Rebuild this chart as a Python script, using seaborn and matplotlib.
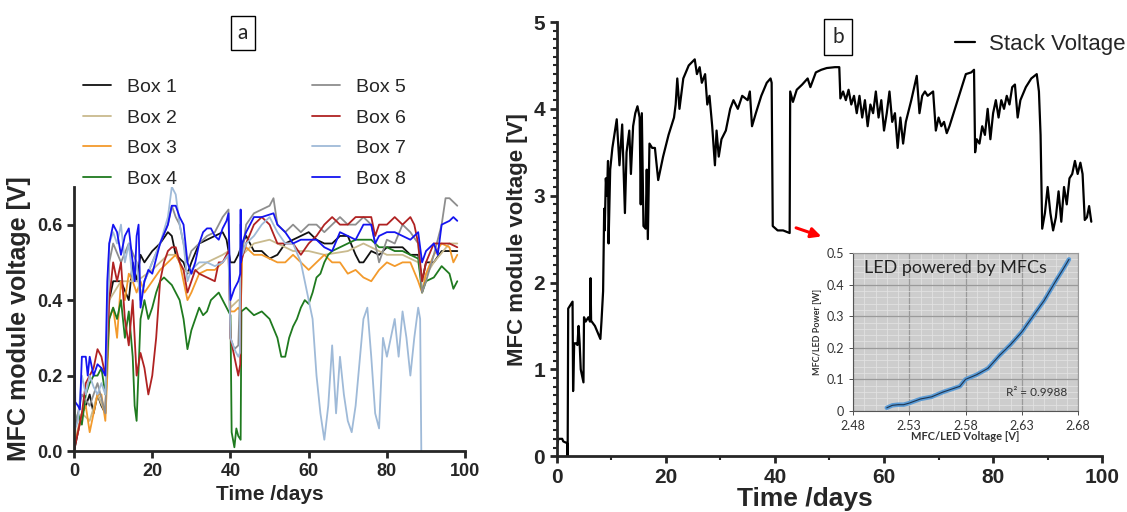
import numpy as np
import pandas as pd
import seaborn as sns
import matplotlib.pyplot as plt
from matplotlib.lines import Line2D
from matplotlib.ticker import MultipleLocator, FuncFormatter

# ---- panel a: single module voltages (V) vs time (days) ----
box1_t = [0, 1, 2, 3, 4, 5, 6, 7, 8, 9, 10, 12, 14, 15, 16, 17, 18, 20, 22, 24, 25, 26, 28, 29, 30, 32, 34, 36, 38, 39, 40, 41, 42, 43, 44, 46, 48, 50, 52, 54, 56, 58, 60, 62, 64, 66, 68, 70, 72, 73, 74, 76, 78, 80, 82, 84, 86, 88, 89, 90, 92, 94, 96, 98]
box1_v = [0.0, 0.05, 0.1, 0.12, 0.15, 0.1, 0.15, 0.12, 0.1, 0.4, 0.45, 0.45, 0.4, 0.5, 0.45, 0.52, 0.5, 0.53, 0.55, 0.58, 0.57, 0.52, 0.5, 0.47, 0.5, 0.55, 0.56, 0.57, 0.58, 0.56, 0.5, 0.5, 0.52, 0.55, 0.57, 0.53, 0.53, 0.51, 0.52, 0.55, 0.56, 0.57, 0.58, 0.56, 0.55, 0.55, 0.57, 0.57, 0.52, 0.5, 0.5, 0.53, 0.52, 0.54, 0.54, 0.54, 0.52, 0.52, 0.45, 0.5, 0.5, 0.53, 0.53, 0.53]

box2_t = [0, 2, 4, 6, 8, 9, 12, 16, 20, 24, 26, 28, 30, 34, 38, 39.5, 40, 42, 42.7, 43, 46, 50, 52, 56, 60, 64, 70, 74, 78, 80, 84, 88, 89, 92, 96, 98]
box2_v = [0.02, 0.1, 0.08, 0.15, 0.1, 0.4, 0.45, 0.45, 0.48, 0.52, 0.52, 0.48, 0.47, 0.5, 0.52, 0.53, 0.38, 0.4, 0.4, 0.52, 0.55, 0.56, 0.55, 0.53, 0.53, 0.52, 0.53, 0.55, 0.53, 0.52, 0.52, 0.5, 0.45, 0.5, 0.55, 0.55]

box3_t = [0, 1, 2, 3, 4, 5, 6, 7, 8, 8.5, 9, 10, 11, 12, 13, 14, 15, 16, 17, 18, 20, 22, 24, 26, 27, 28, 29, 30, 32, 34, 36, 38, 39.5, 40, 41, 42, 42.6, 43, 44, 46, 48, 50, 52, 54, 56, 58, 60, 62, 64, 66, 68, 70, 72, 74, 76, 78, 80, 82, 84, 86, 88, 89, 90, 92, 94, 96, 97, 98]
box3_v = [0.02, 0.05, 0.1, 0.12, 0.05, 0.1, 0.15, 0.15, 0.08, 0.2, 0.35, 0.38, 0.3, 0.45, 0.4, 0.47, 0.45, 0.42, 0.45, 0.42, 0.45, 0.48, 0.5, 0.52, 0.5, 0.45, 0.4, 0.42, 0.47, 0.48, 0.48, 0.5, 0.52, 0.37, 0.37, 0.38, 0.37, 0.52, 0.54, 0.52, 0.52, 0.51, 0.5, 0.5, 0.52, 0.5, 0.48, 0.5, 0.52, 0.5, 0.5, 0.47, 0.48, 0.46, 0.45, 0.48, 0.5, 0.49, 0.5, 0.5, 0.45, 0.42, 0.47, 0.52, 0.55, 0.54, 0.5, 0.52]

box4_t = [0, 1, 2, 3, 4, 5, 6, 7, 8, 9, 10, 11, 12, 13, 14, 15, 15.5, 16, 17, 18, 19, 20, 21, 22, 23, 24, 25, 26, 27, 28, 29, 30, 31, 32, 33, 34, 35, 36, 37, 38, 39, 40, 40.3, 41, 41.5, 42, 42.6, 42.8, 44, 46, 48, 50, 52, 53, 54, 55, 56, 57, 58, 59, 60, 61, 62, 63, 64, 65, 66, 68, 70, 72, 74, 76, 78, 80, 82, 84, 86, 88, 89, 90, 92, 94, 96, 97, 98]
box4_v = [0.05, 0.1, 0.07, 0.15, 0.18, 0.2, 0.2, 0.22, 0.15, 0.35, 0.38, 0.35, 0.4, 0.3, 0.37, 0.25, 0.12, 0.08, 0.35, 0.4, 0.35, 0.38, 0.42, 0.45, 0.46, 0.45, 0.44, 0.42, 0.4, 0.35, 0.27, 0.32, 0.35, 0.38, 0.36, 0.37, 0.4, 0.41, 0.42, 0.4, 0.38, 0.36, 0.05, 0.01, 0.06, 0.04, 0.03, 0.37, 0.38, 0.36, 0.37, 0.35, 0.3, 0.25, 0.25, 0.3, 0.33, 0.35, 0.38, 0.4, 0.39, 0.42, 0.46, 0.47, 0.5, 0.52, 0.53, 0.54, 0.55, 0.56, 0.56, 0.56, 0.54, 0.54, 0.53, 0.53, 0.52, 0.51, 0.42, 0.45, 0.46, 0.49, 0.47, 0.43, 0.45]

box5_t = [0, 2, 4, 6, 8, 9, 10, 12, 14, 16, 17, 18, 20, 22, 24, 25, 26, 27, 28, 29, 30, 32, 34, 36, 38, 39.5, 40, 41, 42, 42.7, 44, 46, 48, 50, 51, 52, 54, 56, 58, 60, 62, 64, 66, 68, 70, 72, 74, 76, 77, 78, 80, 82, 84, 86, 88, 89, 90, 92, 94, 95, 96, 97, 98]
box5_v = [0.05, 0.15, 0.12, 0.18, 0.1, 0.5, 0.55, 0.5, 0.55, 0.5, 0.4, 0.45, 0.5, 0.55, 0.6, 0.65, 0.62, 0.6, 0.55, 0.5, 0.53, 0.55, 0.57, 0.58, 0.62, 0.64, 0.3, 0.27, 0.28, 0.5, 0.6, 0.63, 0.64, 0.65, 0.67, 0.6, 0.58, 0.6, 0.58, 0.6, 0.6, 0.58, 0.6, 0.62, 0.6, 0.6, 0.62, 0.6, 0.55, 0.5, 0.56, 0.55, 0.6, 0.58, 0.55, 0.42, 0.45, 0.52, 0.6, 0.67, 0.67, 0.66, 0.65]

box6_t = [0, 1, 2, 3, 4, 5, 6, 7, 8, 9, 10, 11, 12, 13, 14, 15, 15.5, 16, 17, 18, 19, 20, 21, 22, 23, 24, 25, 26, 27, 28, 29, 30, 31, 32, 34, 36, 37, 38, 39, 39.5, 40, 41, 42, 42.5, 42.7, 44, 46, 48, 50, 52, 54, 56, 58, 60, 62, 64, 66, 68, 70, 72, 74, 76, 77, 78, 80, 82, 84, 86, 87, 88, 89, 90, 92, 94, 96, 98]
box6_v = [0.0, 0.05, 0.1, 0.18, 0.2, 0.22, 0.27, 0.25, 0.2, 0.4, 0.5, 0.45, 0.5, 0.35, 0.28, 0.4, 0.3, 0.2, 0.26, 0.22, 0.15, 0.2, 0.3, 0.45, 0.5, 0.53, 0.54, 0.54, 0.5, 0.48, 0.42, 0.45, 0.48, 0.47, 0.46, 0.45, 0.5, 0.5, 0.52, 0.53, 0.3, 0.25, 0.2, 0.23, 0.5, 0.55, 0.6, 0.62, 0.6, 0.55, 0.55, 0.55, 0.52, 0.55, 0.57, 0.6, 0.62, 0.6, 0.6, 0.62, 0.62, 0.62, 0.57, 0.6, 0.6, 0.62, 0.6, 0.62, 0.6, 0.55, 0.45, 0.5, 0.55, 0.55, 0.55, 0.54]

box7_t = [0, 1, 2, 3, 4, 5, 6, 7, 8, 9, 10, 11, 12, 13, 14, 15, 16, 17, 18, 20, 22, 24, 25, 26, 27, 28, 29, 30, 32, 34, 36, 38, 39.5, 40, 41, 42, 42.4, 42.5, 43, 44, 46, 48, 50, 52, 54, 56, 58, 59, 60, 61, 62, 63, 64, 65, 66, 67, 68, 69, 70, 71, 72, 74, 75, 76, 77, 78, 79, 80, 81, 82, 83, 84, 85, 86, 87, 88, 88.5, 88.8]
box7_v = [0.05, 0.08, 0.2, 0.15, 0.2, 0.17, 0.15, 0.18, 0.15, 0.55, 0.58, 0.55, 0.6, 0.5, 0.55, 0.45, 0.5, 0.4, 0.45, 0.5, 0.55, 0.62, 0.7, 0.68, 0.6, 0.55, 0.45, 0.48, 0.5, 0.5, 0.49, 0.5, 0.52, 0.3, 0.27, 0.25, 0.26, 0.6, 0.52, 0.55, 0.57, 0.6, 0.62, 0.58, 0.55, 0.55, 0.5, 0.45, 0.4, 0.35, 0.2, 0.1, 0.03, 0.12, 0.28, 0.1, 0.25, 0.15, 0.08, 0.05, 0.12, 0.35, 0.38, 0.25, 0.1, 0.06, 0.3, 0.25, 0.3, 0.35, 0.25, 0.37, 0.3, 0.2, 0.3, 0.38, 0.35, 0.0]

box8_t = [0, 0.3, 1, 1.5, 2, 3, 3.5, 4, 5, 6, 7, 8, 8.5, 9, 10, 11, 12, 13, 14, 15, 15.5, 16, 16.5, 17, 18, 19, 20, 22, 24, 25, 26, 27, 28, 29, 30, 31, 32, 33, 34, 35, 36, 37, 38, 39, 39.5, 40, 41, 42, 42.5, 42.6, 42.7, 43, 44, 45, 46, 48, 51, 52, 54, 56, 58, 60, 62, 64, 66, 68, 70, 72, 74, 76, 77, 78, 80, 82, 84, 86, 88, 89, 90, 92, 93, 94, 96, 97, 98]
box8_v = [0.4, 0.13, 0.12, 0.11, 0.25, 0.25, 0.2, 0.25, 0.2, 0.23, 0.22, 0.2, 0.45, 0.55, 0.6, 0.58, 0.52, 0.57, 0.59, 0.5, 0.45, 0.57, 0.6, 0.38, 0.45, 0.48, 0.47, 0.55, 0.6, 0.65, 0.65, 0.62, 0.6, 0.5, 0.47, 0.5, 0.55, 0.58, 0.59, 0.59, 0.57, 0.56, 0.59, 0.61, 0.63, 0.4, 0.43, 0.45, 0.47, 0.64, 0.5, 0.55, 0.58, 0.6, 0.62, 0.62, 0.63, 0.6, 0.58, 0.55, 0.56, 0.56, 0.56, 0.54, 0.53, 0.58, 0.57, 0.56, 0.6, 0.6, 0.55, 0.57, 0.58, 0.58, 0.57, 0.56, 0.58, 0.5, 0.53, 0.55, 0.52, 0.6, 0.61, 0.62, 0.61]

box_names = ['Box 1', 'Box 2', 'Box 3', 'Box 4', 'Box 5', 'Box 6', 'Box 7', 'Box 8']
box_colors = ['#111111', '#c9ba8e', '#f39a2c', '#1f7a1f', '#8e8e8e', '#b02222', '#9fbad8', '#1414f0']

# ---- panel b: stack voltage ----
stack_t = [0, 0.3, 1.0, 1.2, 1.9, 2.0, 2.1, 2.3, 2.9, 3.0, 3.2, 3.5, 3.8, 4.0, 4.2, 4.4, 4.9, 5.0, 5.3, 5.8, 6.1, 6.2, 6.3, 7.0, 8.0, 8.2, 8.5, 8.7, 8.8, 9.0, 9.2, 9.4, 9.5, 9.8, 10.2, 11.0, 11.5, 12.0, 12.5, 12.8, 13.3, 13.6, 14.0, 14.4, 14.8, 15.2, 15.4, 15.6, 15.9, 16.3, 16.5, 16.7, 17.0, 17.5, 18.0, 18.6, 19.5, 20.5, 21.5, 21.8, 22.1, 22.5, 23.2, 24.2, 25.3, 25.7, 26.2, 26.6, 27.2, 27.6, 28.0, 28.5, 29.0, 29.3, 29.7, 30.2, 31.0, 31.8, 32.4, 33.2, 34.0, 35.0, 35.4, 35.8, 36.5, 37.5, 38.5, 39.2, 39.4, 39.6, 40.5, 41.5, 42.7, 42.8, 43.3, 44.0, 45.0, 46.0, 46.5, 47.5, 48.5, 49.5, 51.0, 51.8, 52.0, 52.5, 53.0, 53.5, 54.0, 54.5, 55.0, 55.5, 56.0, 56.5, 57.0, 57.5, 58.0, 58.5, 59.0, 59.5, 60.0, 60.5, 61.0, 61.5, 62.0, 62.5, 63.0, 63.5, 64.0, 65.0, 66.0, 66.5, 67.0, 67.5, 68.0, 69.0, 69.5, 70.0, 70.5, 71.0, 71.5, 72.0, 73.0, 74.0, 75.0, 76.0, 76.5, 76.7, 77.0, 77.5, 78.0, 78.5, 79.0, 79.5, 80.0, 80.5, 81.0, 81.5, 82.0, 82.5, 83.0, 83.5, 84.0, 84.5, 85.0, 86.0, 87.0, 88.0, 88.4, 88.7, 89.0, 89.5, 90.0, 90.5, 91.0, 91.5, 92.0, 92.5, 93.0, 93.5, 94.0, 94.5, 95.0, 95.5, 96.0, 96.4, 96.8, 97.2, 97.6, 98.0]
stack_v = [0.1, 0.2, 0.2, 0.17, 0.15, 0.0, 1.7, 1.72, 1.78, 0.75, 1.3, 1.3, 1.28, 1.5, 1.3, 1.0, 0.85, 1.6, 1.55, 1.6, 1.55, 2.05, 1.56, 1.5, 1.35, 1.55, 1.9, 2.85, 2.6, 3.2, 3.0, 3.4, 2.45, 3.3, 3.55, 3.88, 3.35, 3.82, 2.8, 3.5, 3.75, 3.25, 3.8, 3.95, 4.03, 3.9, 2.9, 3.95, 2.65, 2.62, 3.3, 2.5, 3.6, 3.55, 3.55, 3.18, 3.45, 3.7, 3.9, 4.05, 4.35, 4.0, 4.35, 4.5, 4.57, 4.4, 4.48, 4.3, 4.4, 4.05, 4.15, 3.8, 3.35, 3.75, 3.45, 3.65, 3.75, 4.0, 4.1, 4.0, 4.15, 4.1, 4.2, 3.8, 3.95, 4.15, 4.3, 4.35, 4.3, 2.65, 2.6, 2.6, 2.57, 4.2, 4.08, 4.22, 4.28, 4.35, 4.25, 4.42, 4.45, 4.47, 4.48, 4.48, 4.12, 4.2, 4.1, 4.22, 4.05, 4.15, 3.95, 4.15, 3.9, 4.1, 3.8, 4.05, 3.95, 4.2, 3.9, 4.1, 3.75, 3.95, 4.2, 3.85, 3.95, 3.55, 3.9, 3.6, 3.85, 4.1, 4.38, 3.95, 4.15, 4.2, 4.15, 4.2, 3.75, 3.9, 3.8, 3.85, 3.72, 3.8, 4.0, 4.2, 4.4, 4.42, 4.45, 3.5, 3.65, 3.6, 3.8, 3.7, 4.0, 3.65, 3.95, 4.1, 3.9, 4.1, 4.0, 4.15, 4.05, 4.25, 4.28, 3.9, 4.1, 4.25, 4.35, 4.4, 4.2, 3.7, 2.62, 2.8, 3.1, 2.8, 2.6, 2.75, 3.05, 2.7, 3.1, 2.9, 3.2, 3.25, 3.4, 3.25, 3.38, 3.25, 2.72, 2.75, 2.88, 2.7]

# ---- inset: LED power vs voltage ----
led_v = [2.51, 2.515, 2.52, 2.525, 2.53, 2.54, 2.55, 2.56, 2.57, 2.575, 2.58, 2.59, 2.6, 2.61, 2.62, 2.63, 2.64, 2.65, 2.66, 2.667, 2.672]
led_p = [0.01, 0.018, 0.02, 0.02, 0.025, 0.038, 0.045, 0.06, 0.072, 0.078, 0.1, 0.115, 0.135, 0.175, 0.21, 0.25, 0.3, 0.35, 0.41, 0.45, 0.48]

sns.set_style('ticks')
plt.rcParams['font.family'] = ['Liberation Sans', 'DejaVu Sans']

fig = plt.figure(figsize=(11.27, 5.12), dpi=100)

# ---------- panel a ----------
ax_a = fig.add_axes([0.0657, 0.119, 0.347, 0.516])
all_t = [box1_t, box2_t, box3_t, box4_t, box5_t, box6_t, box7_t, box8_t]
all_v = [box1_v, box2_v, box3_v, box4_v, box5_v, box6_v, box7_v, box8_v]
frames = []
for name, t, v in zip(box_names, all_t, all_v):
    frames.append(pd.DataFrame({'Time': t, 'V': v, 'Box': name}))
df_a = pd.concat(frames, ignore_index=True)
sns.lineplot(data=df_a, x='Time', y='V', hue='Box', hue_order=box_names,
             palette=dict(zip(box_names, box_colors)), estimator=None,
             linewidth=1.3, legend=False, ax=ax_a)
ax_a.set_xlim(0, 100)
ax_a.set_ylim(0, 0.7)
ax_a.set_xticks([0, 20, 40, 60, 80, 100])
ax_a.set_yticks([0.0, 0.2, 0.4, 0.6])
ax_a.yaxis.set_major_formatter(FuncFormatter(lambda v, _: f'{v:.1f}'))
ax_a.set_xlabel('Time /days', fontsize=15, fontweight='bold')
ax_a.set_ylabel('MFC module voltage [V]', fontsize=18, fontweight='bold')
ax_a.tick_params(labelsize=13, width=2, length=5)
for lbl in ax_a.get_xticklabels() + ax_a.get_yticklabels():
    lbl.set_fontweight('bold')
sns.despine(ax=ax_a)
for s in ['left', 'bottom']:
    ax_a.spines[s].set_linewidth(2)

handles = [Line2D([], [], color=c, lw=1.3) for c in box_colors]
fig.legend(handles, box_names, ncol=2, loc='upper left',
           bbox_to_anchor=(0.074, 0.847), frameon=False, fontsize=14,
           handlelength=1.4, handletextpad=0.85, columnspacing=6.95,
           labelspacing=0.67, borderpad=0, borderaxespad=0)

fig.text(243 / 1127, 1 - 33 / 512, 'a', ha='center', va='center', fontsize=15,
         family=['Lato', 'DejaVu Sans'],
         bbox=dict(boxstyle='square,pad=0.35', fc='white', ec='black', lw=1))

# ---------- panel b ----------
ax_b = fig.add_axes([0.494, 0.109, 0.484, 0.848])
df_b = pd.DataFrame({'Time': stack_t, 'Stack Voltage': stack_v})
sns.lineplot(data=df_b, x='Time', y='Stack Voltage', color='black',
             linewidth=1.6, estimator=None, ax=ax_b)
ax_b.set_xlim(0, 100)
ax_b.set_ylim(0, 5)
ax_b.set_xticks([0, 20, 40, 60, 80, 100])
ax_b.set_yticks([0, 1, 2, 3, 4, 5])
ax_b.xaxis.set_minor_locator(MultipleLocator(10))
ax_b.yaxis.set_minor_locator(MultipleLocator(0.1))
ax_b.set_xlabel('Time /days', fontsize=19, fontweight='bold')
ax_b.xaxis.set_label_coords(0.455, -0.071)
ax_b.set_ylabel('MFC module voltage [V]', fontsize=16, fontweight='bold')
ax_b.tick_params(labelsize=15, width=2, length=5)
ax_b.tick_params(which='minor', width=1.5, length=3)
for lbl in ax_b.get_xticklabels() + ax_b.get_yticklabels():
    lbl.set_fontweight('bold')
sns.despine(ax=ax_b)
for s in ['left', 'bottom']:
    ax_b.spines[s].set_linewidth(2)

ax_b.legend([Line2D([], [], color='black', lw=1.6)], ['Stack Voltage'],
            loc='upper right', bbox_to_anchor=(1.042, 0.972), frameon=False,
            fontsize=16, handlelength=0.9, handletextpad=0.6,
            borderpad=0, borderaxespad=0)

fig.text(838 / 1127, 1 - 37 / 512, 'b', ha='center', va='center', fontsize=15,
         family=['Lato', 'DejaVu Sans'],
         bbox=dict(boxstyle='square,pad=0.4', fc='white', ec='black', lw=1))

ax_b.annotate('', xy=(49.0, 2.52), xytext=(43.4, 2.64),
              arrowprops=dict(arrowstyle='-|>,head_length=0.6,head_width=0.3',
                              color='red', lw=2.2))

# ---------- inset ----------
ax_in = fig.add_axes([853 / 1127, 1 - 411 / 512, 225 / 1127, 158 / 512])
ax_in.set_facecolor('#cdcdcd')
df_in = pd.DataFrame({'V': led_v, 'P': led_p})
sns.lineplot(data=df_in, x='V', y='P', color='#5b9bd5', linewidth=3.2,
             estimator=None, ax=ax_in)
sns.lineplot(data=df_in, x='V', y='P', color='#1f3550', linewidth=0.8,
             estimator=None, ax=ax_in)
ax_in.set_xlim(2.48, 2.68)
ax_in.set_ylim(0, 0.5)
ax_in.set_xticks([2.48, 2.53, 2.58, 2.63, 2.68])
ax_in.set_yticks([0, 0.1, 0.2, 0.3, 0.4, 0.5])
ax_in.xaxis.set_major_formatter(FuncFormatter(lambda v, _: f'{v:.2f}'))
ax_in.yaxis.set_major_formatter(FuncFormatter(lambda v, _: '0' if v == 0 else f'{v:.1f}'))
ax_in.xaxis.set_minor_locator(MultipleLocator(0.01))
ax_in.yaxis.set_minor_locator(MultipleLocator(0.02))
ax_in.grid(which='major', color='#9a9a9a', lw=0.9)
ax_in.grid(which='minor', color='#e4e4e4', lw=0.5)
ax_in.set_axisbelow(True)
ax_in.tick_params(labelsize=9, colors='#333333', length=3, width=0.6)
ax_in.tick_params(which='minor', length=0)
for s in ax_in.spines.values():
    s.set_color('#9a9a9a')
    s.set_linewidth(0.8)
ax_in.spines['left'].set_color('#555555')
ax_in.spines['bottom'].set_color('#555555')
ax_in.set_xlabel('MFC/LED Voltage [V]', fontsize=8, fontweight='bold',
                 color='#333333', labelpad=-1, family=['Lato', 'DejaVu Sans'])
ax_in.set_ylabel('MFC/LED Power [W]', fontsize=6.5, fontweight='bold',
                 color='#333333', labelpad=3, family=['Lato', 'DejaVu Sans'])
for lbl in ax_in.get_xticklabels() + ax_in.get_yticklabels():
    lbl.set_family(['Lato', 'DejaVu Sans'])
ax_in.text(0.05, 0.955, 'LED powered by MFCs', transform=ax_in.transAxes,
           fontsize=13, va='top', ha='left', color='#222222',
           family=['Lato', 'DejaVu Sans'])
ax_in.text(2.643, 0.06, 'R² = 0.9988', fontsize=8.5, color='#333333',
           ha='center', va='center', family=['Lato', 'DejaVu Sans'])

fig.savefig('out.png', dpi=100)
